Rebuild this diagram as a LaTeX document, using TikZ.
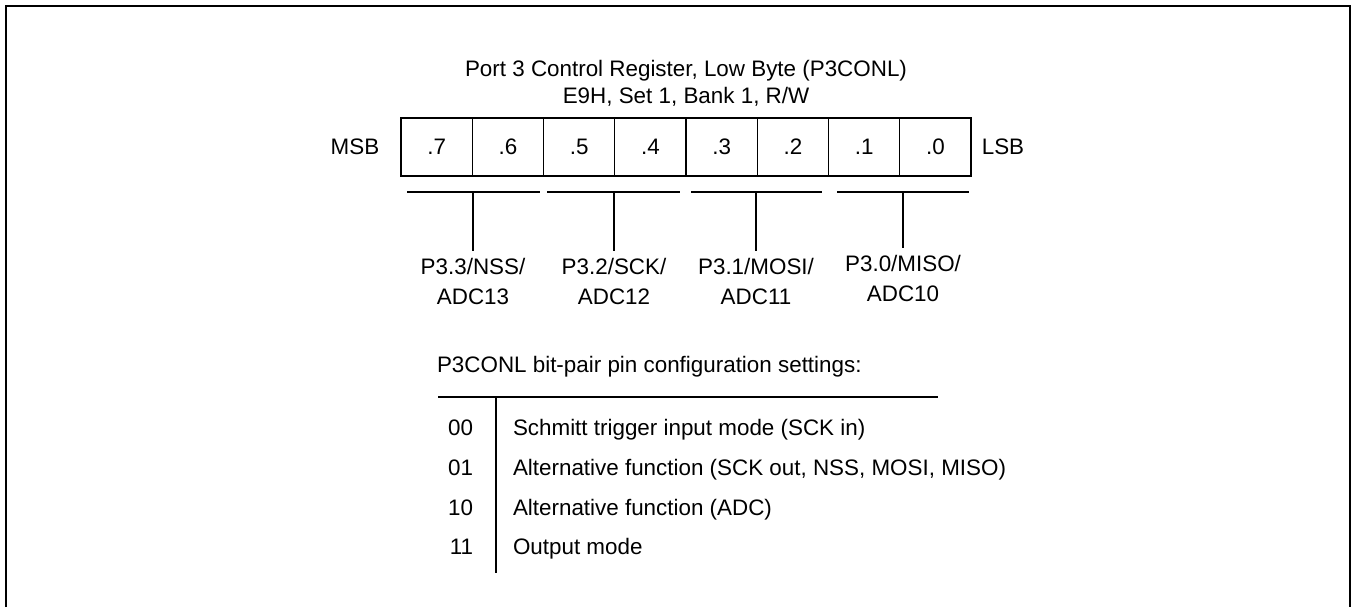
\documentclass[tikz,border=0pt]{standalone}
\usepackage{fontspec}
\setmainfont{Liberation Sans}
\usetikzlibrary{positioning}

\begin{document}
\begin{tikzpicture}[x=0.5pt, y=-0.5pt,
  every node/.style={font=\fontsize{11.2}{15}\selectfont, inner sep=0pt, outer sep=0pt},
  bitcell/.style={draw, line width=0.7pt, minimum width=35.625pt, minimum height=29pt},
  pinlbl/.style={align=center, anchor=north, inner ysep=3.5pt},
  rule/.style={line width=0.6pt}]
  \useasboundingbox (0,0) rectangle (1352,607);

  % Frame (open at the bottom)
  \draw[line width=1.1pt] (6,607) -- (6,6) -- (1350,6) -- (1350,607);

  % --- Register title ---
  \node[anchor=base] (title1) at (686,76) {Port 3 Control Register, Low Byte (P3CONL)};
  \node[anchor=base] (title2) at (686,103) {E9H, Set 1, Bank 1, R/W};

  % --- Bit cells ---
  \node[bitcell] (b7) at (436.625,147) {.7};
  \node[bitcell, right=0pt of b7] (b6) {.6};
  \node[bitcell, right=0pt of b6] (b5) {.5};
  \node[bitcell, right=0pt of b5] (b4) {.4};
  \node[bitcell, right=0pt of b4] (b3) {.3};
  \node[bitcell, right=0pt of b3] (b2) {.2};
  \node[bitcell, right=0pt of b2] (b1) {.1};
  \node[bitcell, right=0pt of b1] (b0) {.0};
  \node (msb) at (355,147) {MSB};
  \node (lsb) at (1003,147) {LSB};

  % --- Bit-pair brackets ---
  \draw[rule] (407,192) -- (540,192);
  \draw[rule] (547,192) -- (680,192);
  \draw[rule] (691,192) -- (822,192);
  \draw[rule] (837,192) -- (969,192);
  \coordinate (br3) at (473,192);
  \coordinate (br2) at (614,192);
  \coordinate (br1) at (756,192);
  \coordinate (br0) at (903,192);

  % Pin names
  \node[pinlbl] (p33) at (473,251) {P3.3/NSS/\\ADC13};
  \node[pinlbl] (p32) at (614,251) {P3.2/SCK/\\ADC12};
  \node[pinlbl] (p31) at (756,251) {P3.1/MOSI/\\ADC11};
  \node[pinlbl] (p30) at (903,248) {P3.0/MISO/\\ADC10};
  \draw[rule] (br3) -- (p33.north);
  \draw[rule] (br2) -- (p32.north);
  \draw[rule] (br1) -- (p31.north);
  \draw[rule] (br0) -- (p30.north);

  % --- Settings table ---
  \node[anchor=base west] (sethead) at (437,372) {P3CONL bit-pair pin configuration settings:};
  \coordinate (tl) at (438,397);
  \coordinate (tr) at (938,397);
  \coordinate (vt) at (496,397);
  \coordinate (vb) at (496,573);
  \draw[rule] (tl) -- (tr);
  \draw[rule] (vt) -- (vb);

  \node[anchor=base east] (c00) at (473,435) {00};
  \node[anchor=base east] (c01) at (473,475) {01};
  \node[anchor=base east] (c10) at (473,515) {10};
  \node[anchor=base east] (c11) at (473,554) {11};
  \node[anchor=base west] (m00) at (513,435) {Schmitt trigger input mode (SCK in)};
  \node[anchor=base west] (m01) at (513,475) {Alternative function (SCK out, NSS, MOSI, MISO)};
  \node[anchor=base west] (m10) at (513,515) {Alternative function (ADC)};
  \node[anchor=base west] (m11) at (513,554) {Output mode};
\end{tikzpicture}
\end{document}
